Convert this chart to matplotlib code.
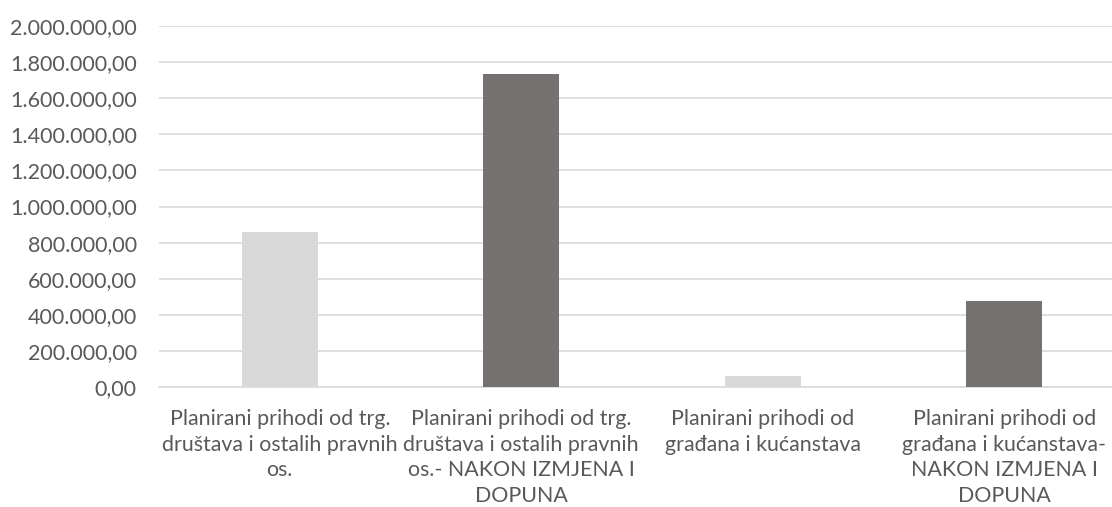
import numpy as np
import matplotlib
matplotlib.use("Agg")
import matplotlib.pyplot as plt
from matplotlib.ticker import FuncFormatter

categories = [
    "Planirani prihodi od trg.\ndruštava i ostalih pravnih\nos.",
    "Planirani prihodi od trg.\ndruštava i ostalih pravnih\nos.- NAKON IZMJENA I\nDOPUNA",
    "Planirani prihodi od\ngrađana i kućanstava",
    "Planirani prihodi od\ngrađana i kućanstava-\nNAKON IZMJENA I\nDOPUNA",
]
values = [858000, 1735000, 61000, 477000]
bar_colors = ["#d9d9d9", "#767171", "#d9d9d9", "#767171"]
yticks = np.arange(0, 2000001, 200000)

def fmt(v, pos):
    s = f"{v:,.2f}"
    return s.replace(",", "X").replace(".", ",").replace("X", ".")

plt.rcParams['font.family'] = ['Lato', 'DejaVu Sans']

fig = plt.figure(figsize=(11.12, 5.07), dpi=100)
ax = fig.add_axes([159/1112, 120/507, 966/1112, 361/507])

x = np.arange(len(values))
ax.bar(x, values, width=0.314, color=bar_colors, zorder=3)

ax.set_xlim(-0.5, 3.5)
ax.set_ylim(0, 2000000)
ax.set_yticks(yticks)
ax.yaxis.set_major_formatter(FuncFormatter(fmt))
ax.grid(axis='y', color='#d9d9d9', linewidth=1.2, zorder=0)
ax.set_xticks(x)
ax.set_xticklabels(categories, linespacing=1.34)

for s in ax.spines.values():
    s.set_visible(False)
ax.spines['bottom'].set_visible(True)
ax.spines['bottom'].set_color('#d9d9d9')
ax.spines['bottom'].set_linewidth(1.2)

ax.tick_params(axis='y', length=0, pad=16, labelsize=15.5, labelcolor='#595959')
ax.tick_params(axis='x', length=0, pad=16, labelsize=15.4, labelcolor='#595959')

fig.savefig("out.png", dpi=100)
